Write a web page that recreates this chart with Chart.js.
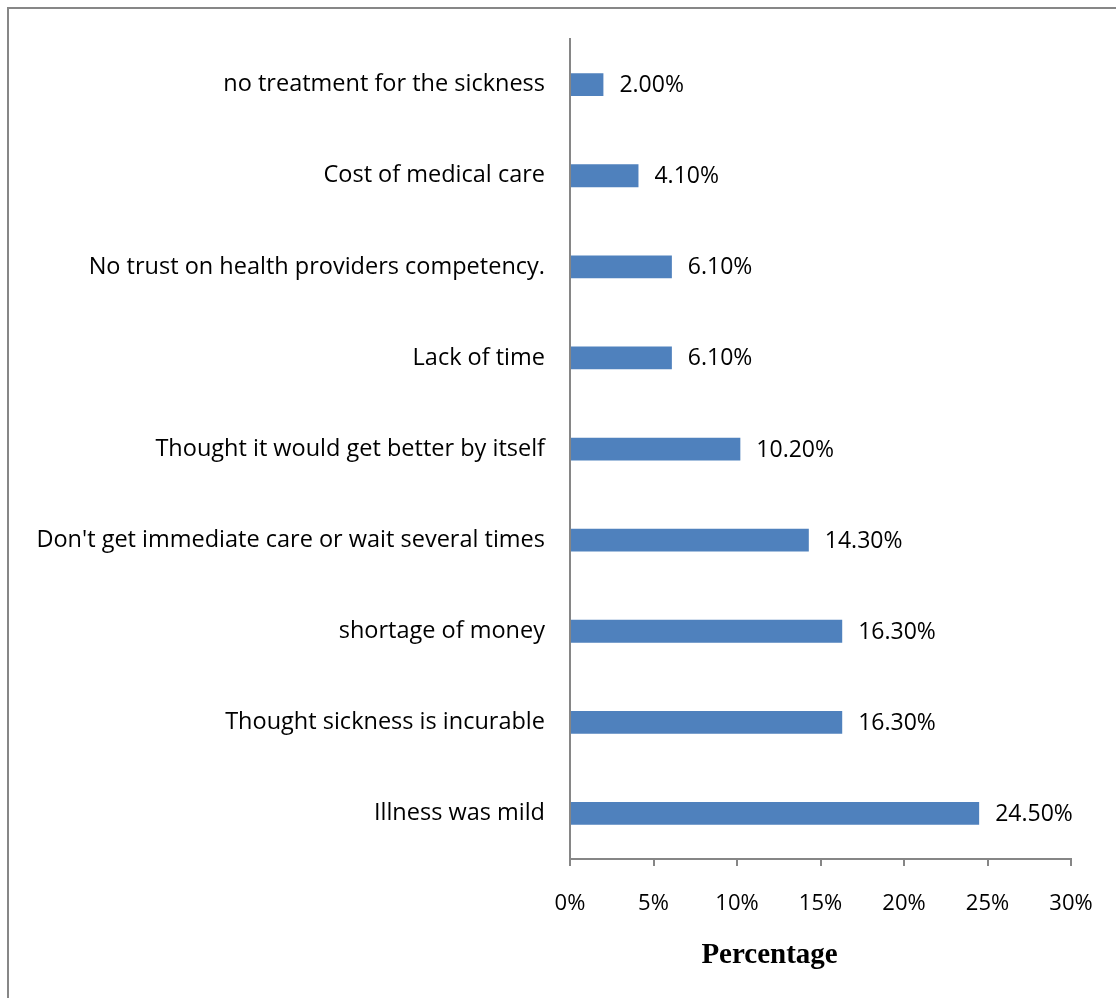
<!DOCTYPE html>
<html>
<head>
<meta charset="utf-8">
<script src="https://cdn.jsdelivr.net/npm/chart.js@4.4.1/dist/chart.umd.min.js"></script>
<style>
  html, body { margin: 0; padding: 0; background: #fff; }
  #wrap { position: relative; width: 1116px; height: 998px; }
  #frame { position: absolute; left: 7px; top: 7px; right: -10px; bottom: -10px; border-left: 2px solid #878787; border-top: 2px solid #878787; }
  canvas { position: absolute; left: 0; top: 0; }
</style>
</head>
<body>
<div id="wrap">
  <div id="frame"></div>
  <canvas id="chart" width="1116" height="998"></canvas>
</div>
<script>
const reasons = [
  'no treatment for the sickness',
  'Cost of medical care',
  'No trust on health providers competency.',
  'Lack of time',
  'Thought it would get better by itself',
  "Don't get immediate care or wait several times",
  'shortage of money',
  'Thought sickness is incurable',
  'Illness was mild'
];
const percentages = [2.0, 4.1, 6.1, 6.1, 10.2, 14.3, 16.3, 16.3, 24.5];
const xTicks = [0, 5, 10, 15, 20, 25, 30];
const axisTitle = 'Percentage';

const axisGray = '#868686';

// value labels to the right of each bar
const valueLabels = {
  id: 'valueLabels',
  afterDatasetsDraw(chart) {
    const ctx = chart.ctx;
    const meta = chart.getDatasetMeta(0);
    ctx.save();
    ctx.font = '23px "Open Sans"';
    ctx.fillStyle = '#000';
    ctx.textBaseline = 'middle';
    ctx.textAlign = 'left';
    meta.data.forEach((bar, i) => {
      ctx.fillText(percentages[i].toFixed(2) + '%', bar.x + 16, bar.y + 1);
    });
    ctx.restore();
  }
};

// axis title sits left of centre in the original
const xTitle = {
  id: 'xTitle',
  afterDraw(chart) {
    const ctx = chart.ctx;
    const x = chart.scales.x.getPixelForValue(11.95);
    ctx.save();
    ctx.font = 'bold 29px "Liberation Serif"';
    ctx.fillStyle = '#000';
    ctx.textAlign = 'center';
    ctx.textBaseline = 'middle';
    ctx.fillText(axisTitle, x, 956);
    ctx.restore();
  }
};

const canvas = document.getElementById('chart');
const chart = new Chart(canvas, {
  type: 'bar',
  data: {
    labels: reasons,
    datasets: [{
      data: percentages,
      backgroundColor: '#4F81BD',
      borderWidth: 0,
      barPercentage: 0.25,
      categoryPercentage: 1
    }]
  },
  options: {
    indexAxis: 'y',
    responsive: false,
    animation: false,
    layout: { padding: { top: 37, right: 45, left: 0, bottom: 0 } },
    plugins: {
      legend: { display: false },
      tooltip: { enabled: false }
    },
    scales: {
      x: {
        min: 0,
        max: 30,
        afterBuildTicks: (scale) => { scale.ticks = xTicks.map(v => ({ value: v })); },
        afterFit: (scale) => {
          scale.height = 139;
          scale.paddingRight = 0;
          scale.paddingLeft = 0;
        },
        border: { color: axisGray, width: 2 },
        grid: { drawOnChartArea: false, drawTicks: true, tickLength: 7, color: axisGray, lineWidth: 2 },
        ticks: {
          font: { family: 'Open Sans', size: 22 },
          color: '#000',
          padding: 25,
          maxRotation: 0,
          callback: (v) => v + '%'
        }
      },
      y: {
        afterFit: (scale) => { scale.width = 570; },
        border: { color: axisGray, width: 2 },
        grid: { drawOnChartArea: false, drawTicks: false },
        ticks: {
          font: { family: 'Open Sans', size: 23.5 },
          color: '#000',
          padding: 25,
          autoSkip: false
        }
      }
    }
  },
  plugins: [valueLabels, xTitle]
});
</script>
</body>
</html>
